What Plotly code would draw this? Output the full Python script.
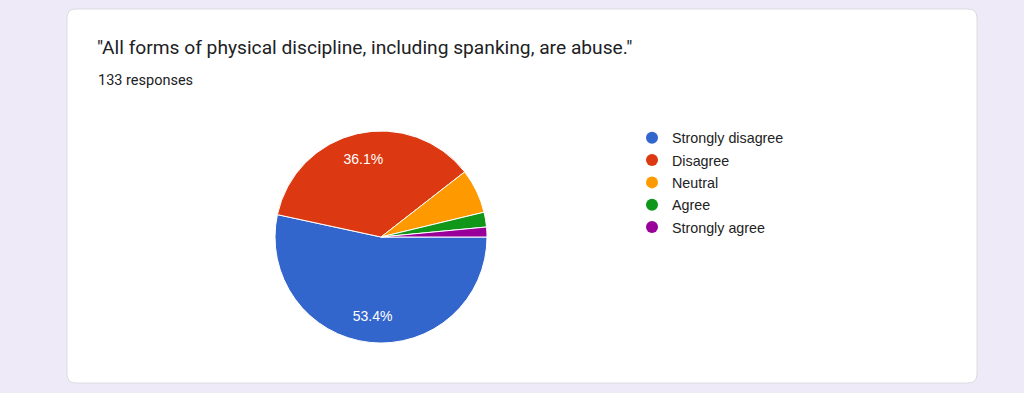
import plotly.graph_objects as go

# ---- data ----
categories = ["Strongly disagree", "Disagree", "Neutral", "Agree", "Strongly agree"]
counts = [71, 48, 9, 3, 2]
colors = ["#3366CC", "#DC3912", "#FF9900", "#109618", "#990099"]
show_pct = [True, True, False, False, False]
title_text = '"All forms of physical discipline, including spanking, are abuse."'
subtitle_text = "133 responses"

W, H = 1024, 393


def px(x):
    return x / W


def py(y):
    return 1 - y / H


# rounded card path in paper coordinates
x0, x1, y0, y1, r = 67, 977, 9, 383, 9
rx, ry = r / W, r / H
card_path = (
    f"M {px(x0)+rx},{py(y0)} L {px(x1)-rx},{py(y0)} Q {px(x1)},{py(y0)} {px(x1)},{py(y0)-ry} "
    f"L {px(x1)},{py(y1)+ry} Q {px(x1)},{py(y1)} {px(x1)-rx},{py(y1)} "
    f"L {px(x0)+rx},{py(y1)} Q {px(x0)},{py(y1)} {px(x0)},{py(y1)+ry} "
    f"L {px(x0)},{py(y0)-ry} Q {px(x0)},{py(y0)} {px(x0)+rx},{py(y0)} Z"
)

pie_domain = dict(x=[px(275), px(487)], y=[py(343), py(131)])

fig = go.Figure()

# coloured slices
fig.add_trace(go.Pie(
    labels=categories,
    values=counts,
    marker=dict(colors=colors, line=dict(color="white", width=1)),
    sort=False,
    direction="clockwise",
    rotation=90,
    textinfo="none",
    showlegend=False,
    domain=pie_domain,
    hoverinfo="label+value+percent",
))

# transparent ring overlay carrying the percentage labels (placed at ~0.75 R)
fig.add_trace(go.Pie(
    labels=categories,
    values=counts,
    marker=dict(colors=["rgba(0,0,0,0)"] * len(categories), line=dict(width=0)),
    sort=False,
    direction="clockwise",
    rotation=90,
    hole=0.5,
    texttemplate=["%{percent:.1%}" if s else "" for s in show_pct],
    textposition="inside",
    insidetextorientation="horizontal",
    textfont=dict(color="white", size=14, family="Liberation Sans, Arial"),
    showlegend=False,
    domain=pie_domain,
    hoverinfo="skip",
))

for i, (cat, col) in enumerate(zip(categories, colors)):
    fig.add_trace(go.Scatter(
        x=[None], y=[None], mode="markers", name=cat,
        marker=dict(color=col, size=13, symbol="circle"),
        legendgroup=f"g{i}", showlegend=True, hoverinfo="skip",
    ))

fig.update_layout(
    width=W, height=H,
    margin=dict(l=0, r=0, t=0, b=0),
    paper_bgcolor="#EEEAF7",
    plot_bgcolor="rgba(0,0,0,0)",
    xaxis=dict(visible=False),
    yaxis=dict(visible=False),
    shapes=[dict(type="path", path=card_path, xref="paper", yref="paper",
                 fillcolor="white", line=dict(color="#DADCE0", width=1), layer="below")],
    annotations=[
        dict(text=title_text, x=px(95), y=py(47), xref="paper", yref="paper",
             xanchor="left", yanchor="middle", showarrow=False,
             font=dict(family="Roboto, Open Sans", size=19.2, color="#202124")),
        dict(text=subtitle_text, x=px(96), y=py(80), xref="paper", yref="paper",
             xanchor="left", yanchor="middle", showarrow=False,
             font=dict(family="Roboto, Open Sans", size=14.5, color="#202124")),
    ],
    legend=dict(x=px(632), y=py(122), xanchor="left", yanchor="top",
                font=dict(family="Liberation Sans, Arial", size=14.3, color="#222222"),
                bgcolor="rgba(0,0,0,0)", tracegroupgap=0.7, itemsizing="constant"),
)

fig.write_html(
    "out.html",
    config={"displayModeBar": False},
    post_script="document.body.style.margin='0';document.body.style.overflow='hidden';",
)
